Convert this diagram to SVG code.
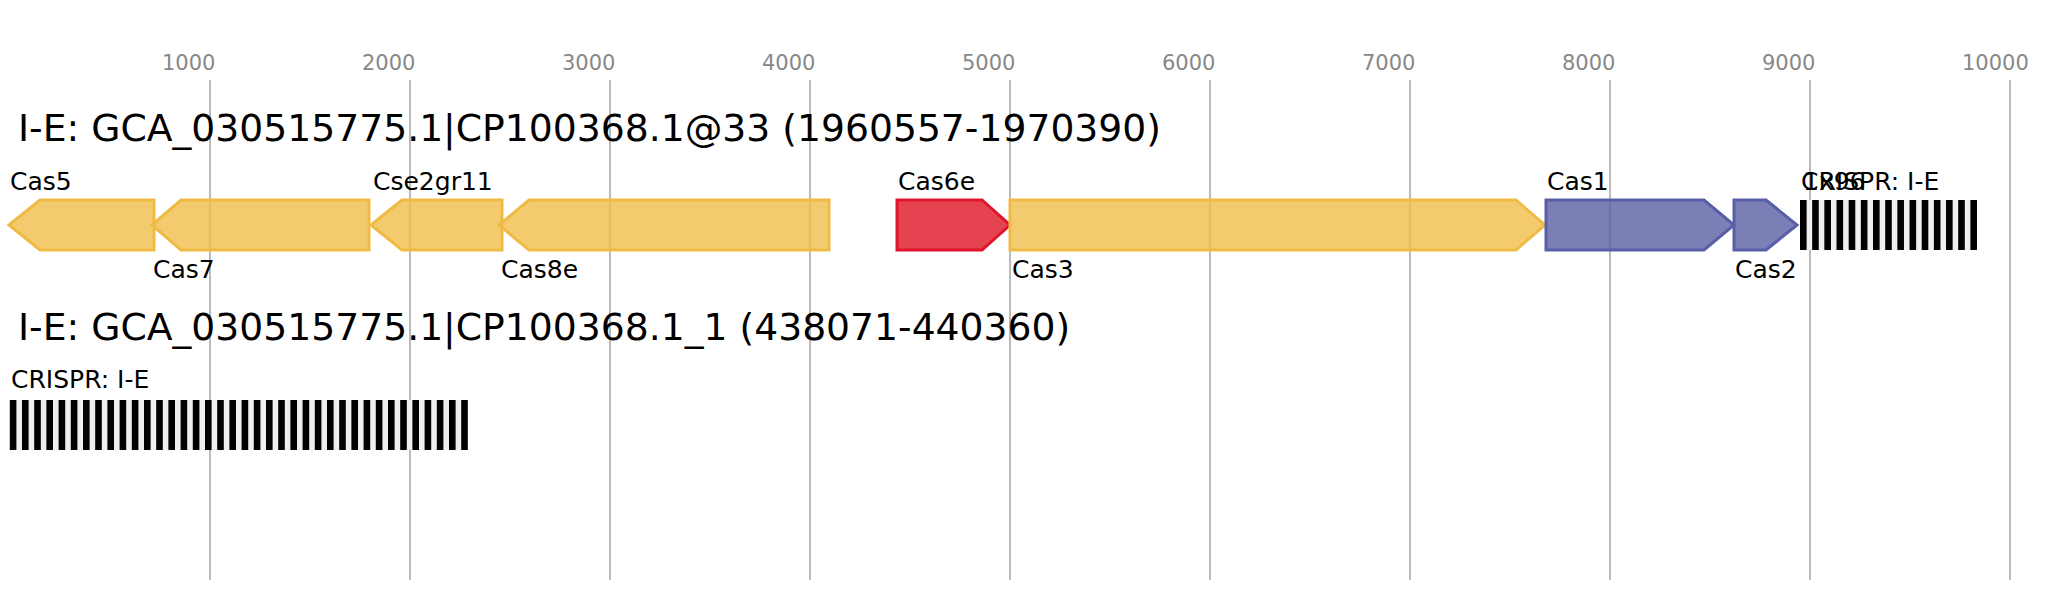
<svg xmlns="http://www.w3.org/2000/svg" width="2067" height="600" viewBox="0 0 2067 600">
<style>
.grid{stroke:#bbbbbb;stroke-width:2;fill:none}
.tick{font-family:"DejaVu Sans",sans-serif;font-size:21px;fill:#888888}
.title{font-family:"DejaVu Sans",sans-serif;font-size:37.7px;fill:#000}
.lbl{font-family:"DejaVu Sans",sans-serif;font-size:25px;fill:#000}
.y{fill:#f0bd4a;fill-opacity:0.8;stroke:#f0bb45;stroke-width:3}
.r{fill:#dd1423;fill-opacity:0.8;stroke:#e0142a;stroke-width:3}
.b{fill:#5a5fa2;fill-opacity:0.8;stroke:#5a5ea8;stroke-width:3}
.arrbg{fill:#efefef}
.bar{fill:#000}
</style>
<defs>
<rect id="bar" class="bar" x="0" y="0" width="6.6" height="50"/>
</defs>
<rect width="2067" height="600" fill="#ffffff"/>
<g id="axis">
<g class="grid">
<line x1="210" y1="80" x2="210" y2="580"/>
<line x1="410" y1="80" x2="410" y2="580"/>
<line x1="610" y1="80" x2="610" y2="580"/>
<line x1="810" y1="80" x2="810" y2="580"/>
<line x1="1010" y1="80" x2="1010" y2="580"/>
<line x1="1210" y1="80" x2="1210" y2="580"/>
<line x1="1410" y1="80" x2="1410" y2="580"/>
<line x1="1610" y1="80" x2="1610" y2="580"/>
<line x1="1810" y1="80" x2="1810" y2="580"/>
<line x1="2010" y1="80" x2="2010" y2="580"/>
</g>
<text class="tick" x="162" y="70">1000</text>
<text class="tick" x="362" y="70">2000</text>
<text class="tick" x="562" y="70">3000</text>
<text class="tick" x="762" y="70">4000</text>
<text class="tick" x="962" y="70">5000</text>
<text class="tick" x="1162" y="70">6000</text>
<text class="tick" x="1362" y="70">7000</text>
<text class="tick" x="1562" y="70">8000</text>
<text class="tick" x="1762" y="70">9000</text>
<text class="tick" x="1962" y="70">10000</text>
</g>
<text id="title1" class="title" x="18" y="141">I-E: GCA_030515775.1|CP100368.1@33 (1960557-1970390)</text>
<g id="cas5"><polygon class="y" points="9,225 40,200 154,200 154,250 40,250"/><text class="lbl" x="10" y="190">Cas5</text></g>
<g id="cas7"><polygon class="y" points="152,225 181,200 369,200 369,250 181,250"/><text class="lbl" x="153" y="278">Cas7</text></g>
<g id="cse2gr11"><polygon class="y" points="371,225 402,200 502,200 502,250 402,250"/><text class="lbl" x="373" y="190">Cse2gr11</text></g>
<g id="cas8e"><polygon class="y" points="499,225 529,200 829,200 829,250 529,250"/><text class="lbl" x="501" y="278">Cas8e</text></g>
<g id="cas6e"><polygon class="r" points="897,200 982,200 1010,225 982,250 897,250"/><text class="lbl" x="898" y="190">Cas6e</text></g>
<g id="cas3"><polygon class="y" points="1010,200 1516,200 1545,225 1516,250 1010,250"/><text class="lbl" x="1012" y="278">Cas3</text></g>
<g id="cas1"><polygon class="b" points="1546,200 1704,200 1734,225 1704,250 1546,250"/><text class="lbl" x="1547" y="190">Cas1</text></g>
<g id="cas2"><polygon class="b" points="1734,200 1766,200 1797,225 1766,250 1734,250"/><text class="lbl" x="1735" y="278">Cas2</text></g>
<g id="crispr1">
<rect class="arrbg" x="1800" y="200" width="177" height="50"/>
<g transform="translate(1800,200)">
<use href="#bar" x="0"/><use href="#bar" x="12.17"/><use href="#bar" x="24.34"/><use href="#bar" x="36.51"/><use href="#bar" x="48.68"/><use href="#bar" x="60.85"/><use href="#bar" x="73.02"/><use href="#bar" x="85.19"/><use href="#bar" x="97.36"/><use href="#bar" x="109.53"/><use href="#bar" x="121.7"/><use href="#bar" x="133.87"/><use href="#bar" x="146.04"/><use href="#bar" x="158.21"/><use href="#bar" x="170.38"/>
</g>
<text class="lbl" x="1801" y="190">CRISPR: I-E</text>
<text class="lbl" x="1803" y="190">1x96</text>
</g>
<text id="title2" class="title" x="18" y="340">I-E: GCA_030515775.1|CP100368.1_1 (438071-440360)</text>
<g id="crispr2">
<rect class="arrbg" x="9.8" y="400" width="458" height="50"/>
<g transform="translate(9.8,400)">
<use href="#bar" x="0"/><use href="#bar" x="12.2"/><use href="#bar" x="24.4"/><use href="#bar" x="36.6"/><use href="#bar" x="48.8"/><use href="#bar" x="61"/><use href="#bar" x="73.2"/><use href="#bar" x="85.4"/><use href="#bar" x="97.6"/><use href="#bar" x="109.8"/><use href="#bar" x="122"/><use href="#bar" x="134.2"/><use href="#bar" x="146.4"/><use href="#bar" x="158.6"/><use href="#bar" x="170.8"/><use href="#bar" x="183"/><use href="#bar" x="195.2"/><use href="#bar" x="207.4"/><use href="#bar" x="219.6"/><use href="#bar" x="231.8"/><use href="#bar" x="244"/><use href="#bar" x="256.2"/><use href="#bar" x="268.4"/><use href="#bar" x="280.6"/><use href="#bar" x="292.8"/><use href="#bar" x="305"/><use href="#bar" x="317.2"/><use href="#bar" x="329.4"/><use href="#bar" x="341.6"/><use href="#bar" x="353.8"/><use href="#bar" x="366"/><use href="#bar" x="378.2"/><use href="#bar" x="390.4"/><use href="#bar" x="402.6"/><use href="#bar" x="414.8"/><use href="#bar" x="427"/><use href="#bar" x="439.2"/><use href="#bar" x="451.4"/>
</g>
<text class="lbl" x="11" y="388">CRISPR: I-E</text>
</g>
</svg>
